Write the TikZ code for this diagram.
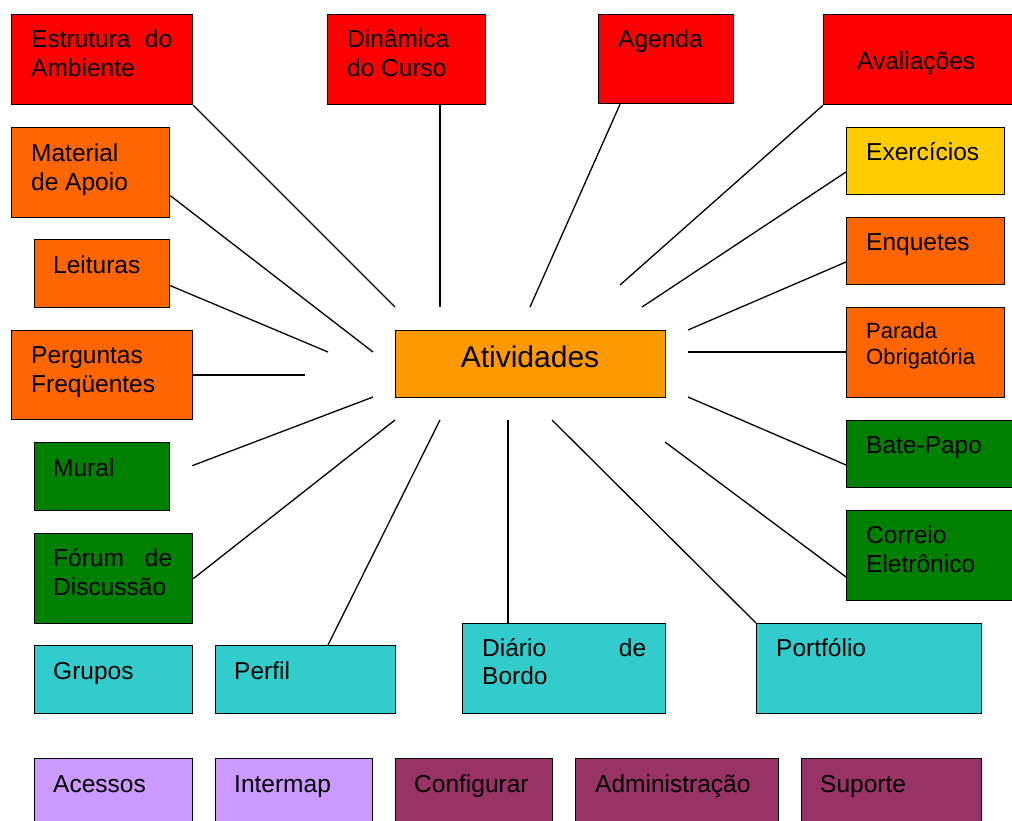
\documentclass[tikz,border=0pt]{standalone}
\usepackage{fontspec}
\setmainfont{Liberation Sans}
\usetikzlibrary{calc}
\definecolor{cred}{HTML}{FF0000}
\definecolor{corange}{HTML}{FF6600}
\definecolor{ccenter}{HTML}{FF9900}
\definecolor{cyellow}{HTML}{FFCC00}
\definecolor{cgreen}{HTML}{008000}
\definecolor{ccyan}{HTML}{33CCCC}
\definecolor{clav}{HTML}{CC99FF}
\definecolor{cplum}{HTML}{993366}
\begin{document}
\begin{tikzpicture}[x=1pt,y=-1pt,
  box/.style={draw=black, line width=1.3pt, rectangle, inner sep=0pt, anchor=north west},
  lbl/.style={anchor=base west, inner sep=0pt, font=\fontsize{24.5}{28.5}\selectfont},
  conn/.style={draw=black, line width=1.3pt}]
\clip (0,0) rectangle (1012,820);
\fill[white] (0,0) rectangle (1012,820);
% boxes
\node[box, fill=cred, minimum width=181pt, minimum height=90pt] (estr) at (11,14) {};
\node[box, fill=cred, minimum width=158pt, minimum height=90pt] (dina) at (327,14) {};
\node[box, fill=cred, minimum width=135pt, minimum height=89pt] (agen) at (598,14) {};
\node[box, fill=cred, minimum width=220pt, minimum height=90pt] (aval) at (823,14) {};
\node[box, fill=corange, minimum width=158pt, minimum height=90pt] (mate) at (11,127) {};
\node[box, fill=cyellow, minimum width=158pt, minimum height=67pt] (exer) at (846,127) {};
\node[box, fill=corange, minimum width=135pt, minimum height=68pt] (leit) at (34,239) {};
\node[box, fill=corange, minimum width=158pt, minimum height=67pt] (enqu) at (846,217) {};
\node[box, fill=corange, minimum width=181pt, minimum height=89pt] (perg) at (11,330) {};
\node[box, fill=ccenter, minimum width=270pt, minimum height=67pt] (ativ) at (395,330) {};
\node[box, fill=corange, minimum width=158pt, minimum height=90pt] (para) at (846,307) {};
\node[box, fill=cgreen, minimum width=135pt, minimum height=68pt] (mura) at (34,442) {};
\node[box, fill=cgreen, minimum width=200pt, minimum height=67pt] (bate) at (846,420) {};
\node[box, fill=cgreen, minimum width=158pt, minimum height=90pt] (foru) at (34,533) {};
\node[box, fill=cgreen, minimum width=200pt, minimum height=90pt] (corr) at (846,510) {};
\node[box, fill=ccyan, minimum width=158pt, minimum height=68pt] (grup) at (34,645) {};
\node[box, fill=ccyan, minimum width=180pt, minimum height=68pt] (perf) at (215,645) {};
\node[box, fill=ccyan, minimum width=203pt, minimum height=90pt] (diar) at (462,623) {};
\node[box, fill=ccyan, minimum width=225pt, minimum height=90pt] (port) at (756,623) {};
\node[box, fill=clav, minimum width=158pt, minimum height=90pt] (aces) at (34,758) {};
\node[box, fill=clav, minimum width=157pt, minimum height=90pt] (inte) at (215,758) {};
\node[box, fill=cplum, minimum width=157pt, minimum height=90pt] (conf) at (395,758) {};
\node[box, fill=cplum, minimum width=203pt, minimum height=90pt] (admi) at (575,758) {};
\node[box, fill=cplum, minimum width=180pt, minimum height=90pt] (supo) at (801,758) {};
% labels
\node[lbl] (estrA) at (31,47) {\makebox[141pt][l]{Estrutura\hfill do}};
\node[lbl] (estrB) at (31,76) {Ambiente};
\node[lbl] (dinaA) at (347,47) {Dinâmica};
\node[lbl] (dinaB) at (347,76) {do Curso};
\node[lbl] (agenA) at (618,47) {Agenda};
\node[lbl] (avalA) at (857,69) {Avaliações};
\node[lbl] (mateA) at (31,161) {Material};
\node[lbl] (mateB) at (31,190) {de Apoio};
\node[lbl] (exerA) at (866,160) {Exercícios};
\node[lbl] (leitA) at (53,273) {Leituras};
\node[lbl] (enquA) at (866,250) {Enquetes};
\node[lbl] (pergA) at (31,363) {Perguntas};
\node[lbl] (pergB) at (31,392) {Freqüentes};
\node[lbl, anchor=base, font=\fontsize{30}{34}\selectfont] (ativA) at (530,367) {Atividades};
\node[lbl, font=\fontsize{22}{26}\selectfont] (paraA) at (866,338) {Parada};
\node[lbl, font=\fontsize{22}{26}\selectfont] (paraB) at (866,364) {Obrigatória};
\node[lbl] (muraA) at (53,476) {Mural};
\node[lbl] (bateA) at (866,453) {Bate-Papo};
\node[lbl] (foruA) at (53,566) {\makebox[119pt][l]{Fórum\hfill de}};
\node[lbl] (foruB) at (53,595) {Discussão};
\node[lbl] (corrA) at (866,543) {Correio};
\node[lbl] (corrB) at (866,572) {Eletrônico};
\node[lbl] (grupA) at (53,679) {Grupos};
\node[lbl] (perfA) at (234,679) {Perfil};
\node[lbl] (diarA) at (482,656) {\makebox[164pt][l]{Diário\hfill de}};
\node[lbl] (diarB) at (482,684) {Bordo};
\node[lbl] (portA) at (776,656) {Portfólio};
\node[lbl] (acesA) at (53,792) {Acessos};
\node[lbl] (inteA) at (234,792) {Intermap};
\node[lbl] (confA) at (414,792) {Configurar};
\node[lbl] (admiA) at (595,792) {Administração};
\node[lbl] (supoA) at (820,792) {Suporte};
% hub ends
\coordinate (hEstr) at (395,307);
\coordinate (hDina) at (440,307);
\coordinate (hAgen) at (530,307);
\coordinate (hAval) at (620,285);
\coordinate (hExer) at (642,307);
\coordinate (hEnqu) at (688,330);
\coordinate (hPara) at (688,352);
\coordinate (hBate) at (688,397);
\coordinate (hCorr) at (665,442);
\coordinate (hPort) at (552,420);
\coordinate (hDiar) at (508,420);
\coordinate (hPerf) at (440,420);
\coordinate (hForu) at (395,420);
\coordinate (hMura) at (373,397);
\coordinate (hPerg) at (305,375);
\coordinate (hLeit) at (328,352);
\coordinate (hMate) at (373,352);
\coordinate (muraEnd) at ($(mura.east)+(22,-11)$);
% connectors
\draw[conn] (estr.south east) -- (hEstr);
\draw[conn] (dina.south -| hDina) -- (hDina);
\draw[conn] ($(agen.south west)+(22,0)$) -- (hAgen);
\draw[conn] (aval.south west) -- (hAval);
\draw[conn] ($(exer.north west)+(0,45)$) -- (hExer);
\draw[conn] ($(enqu.north west)+(0,45)$) -- (hEnqu);
\draw[conn] (para.west |- hPara) -- (hPara);
\draw[conn] ($(bate.north west)+(0,45)$) -- (hBate);
\draw[conn] ($(corr.north west)+(0,67)$) -- (hCorr);
\draw[conn] (port.north west) -- (hPort);
\draw[conn] (diar.north -| hDiar) -- (hDiar);
\draw[conn] ($(perf.north west)+(113,0)$) -- (hPerf);
\draw[conn] (foru.east) -- (hForu);
\draw[conn] (muraEnd) -- (hMura);
\draw[conn] (perg.east |- hPerg) -- (hPerg);
\draw[conn] ($(leit.east)+(0,12)$) -- (hLeit);
\draw[conn] ($(mate.east)+(0,23)$) -- (hMate);
\end{tikzpicture}
\end{document}
